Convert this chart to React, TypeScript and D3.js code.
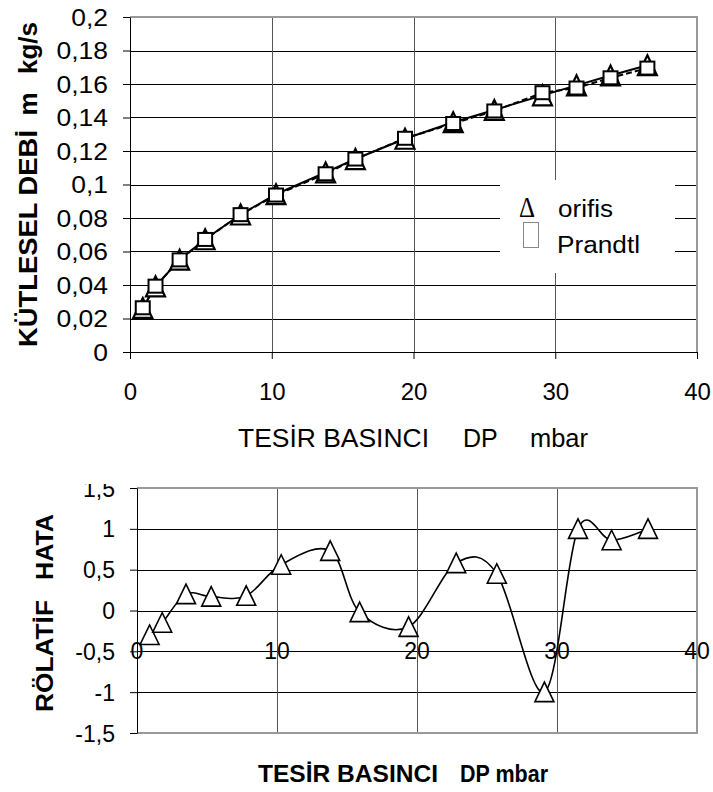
import React, { useEffect, useRef } from 'react';
import * as d3 from 'd3';

// DP (mbar) readings shared by both charts
const dp = [0.9, 1.8, 3.5, 5.3, 7.8, 10.3, 13.8, 15.9, 19.4, 22.8, 25.7, 29.1, 31.5, 33.9, 36.5];
// mass flow, kg/s
const orifis = [0.0263, 0.0392, 0.0551, 0.0673, 0.0821, 0.0942, 0.1072, 0.1152, 0.1273, 0.1372, 0.1445, 0.1532, 0.1592, 0.1651, 0.1712];
const prandtl = [0.0264, 0.0393, 0.055, 0.0672, 0.082, 0.0937, 0.1064, 0.1152, 0.1276, 0.1364, 0.1439, 0.1548, 0.1576, 0.1637, 0.1695];
// relative error, %
const hata = [-0.3, -0.15, 0.2, 0.17, 0.18, 0.56, 0.73, -0.02, -0.2, 0.58, 0.45, -1.0, 1.0, 0.86, 1.0];

const yTicksTop = [0, 0.02, 0.04, 0.06, 0.08, 0.1, 0.12, 0.14, 0.16, 0.18, 0.2];
const yTicksBot = [-1.5, -1, -0.5, 0, 0.5, 1, 1.5];
const xTicks = [0, 10, 20, 30, 40];

const FONT = "'Liberation Sans', Arial, sans-serif";
const fmt = (d: number) => String(+d.toFixed(2)).replace('.', ',');

const App = () => {
  const svgRef = useRef<SVGSVGElement>(null);

  useEffect(() => {
    const svg = d3.select(svgRef.current);
    svg.selectAll('*').remove();
    svg.attr('font-family', FONT);

    const text = (g: any, x: number, y: number, s: string, size: number, o: any = {}) => {
      const t = g.append('text')
        .attr('x', x).attr('y', y)
        .attr('font-size', size)
        .attr('font-weight', o.bold ? 'bold' : 'normal')
        .attr('text-anchor', o.anchor || 'start')
        .attr('fill', '#000')
        .text(s);
      if (o.len) t.attr('textLength', o.len).attr('lengthAdjust', 'spacingAndGlyphs');
      if (o.rotate) t.attr('transform', `rotate(-90,${x},${y})`);
      if (o.family) t.attr('font-family', o.family);
      return t;
    };

    // ---------------- top chart ----------------
    const x1 = d3.scaleLinear().domain([0, 40]).range([130, 697]);
    const y1 = d3.scaleLinear().domain([0, 0.2]).range([352, 17]);
    const top = svg.append('g');

    top.append('g').selectAll('line').data(yTicksTop.slice(1, -1)).join('line')
      .attr('x1', x1(0)).attr('x2', x1(40))
      .attr('y1', d => Math.round(y1(d)) + 0.5).attr('y2', d => Math.round(y1(d)) + 0.5)
      .attr('stroke', '#000');
    top.append('g').selectAll('line').data(xTicks.slice(1, -1)).join('line')
      .attr('x1', d => Math.round(x1(d)) + 0.5).attr('x2', d => Math.round(x1(d)) + 0.5)
      .attr('y1', y1(0.2)).attr('y2', y1(0))
      .attr('stroke', '#555');
    top.append('path')
      .attr('d', `M${x1(0)},${y1(0.2)}H${x1(40)}V${y1(0)}`)
      .attr('fill', 'none').attr('stroke', '#999').attr('stroke-width', 2);

    const ax1 = top.append('g').attr('transform', `translate(${x1(0)},0)`)
      .call(d3.axisLeft(y1).tickValues(yTicksTop).tickSize(7).tickSizeOuter(0).tickFormat(fmt as any));
    ax1.selectAll('text')
      .attr('x', 0).attr('dy', '0.35em')
      .attr('transform', 'translate(-22,0) scale(1.15,1)')
      .attr('font-size', 23).attr('font-family', FONT).attr('fill', '#000');

    const bx1 = top.append('g').attr('transform', `translate(0,${y1(0)})`)
      .call(d3.axisBottom(x1).tickValues(xTicks).tickSize(7).tickSizeOuter(0));
    bx1.selectAll('text')
      .attr('y', 48).attr('dy', 0)
      .attr('font-size', 24).attr('font-family', FONT).attr('fill', '#000');

    // legend box covers grid
    top.append('rect').attr('x', 500).attr('y', 180).attr('width', 175).attr('height', 93).attr('fill', '#fff');
    text(top, 519, 217, 'Δ', 30, { len: 16, family: "'Liberation Serif', serif" });
    text(top, 558, 217, 'orifis', 23, { len: 55 });
    top.append('rect').attr('x', 523.5).attr('y', 222.5).attr('width', 15).attr('height', 25)
      .attr('fill', '#fff').attr('stroke', '#888');
    text(top, 557, 253, 'Prandtl', 23, { len: 83 });

    const line1 = (vals: number[]) => d3.line<number>().x((d, i) => x1(dp[i])).y(d => y1(d))(vals);
    top.append('path').attr('d', line1(orifis)).attr('fill', 'none').attr('stroke', '#000').attr('stroke-width', 2);
    top.append('path').attr('d', line1(prandtl)).attr('fill', 'none').attr('stroke', '#000')
      .attr('stroke-width', 2).attr('stroke-dasharray', '6,3');

    top.append('g').selectAll('path').data(orifis).join('path')
      .attr('d', (d, i) => {
        const cx = x1(dp[i]), cy = y1(d);
        return `M${cx},${cy - 10}L${cx + 9.5},${cy + 10}L${cx - 9.5},${cy + 10}Z`;
      })
      .attr('fill', '#fff').attr('stroke', '#000').attr('stroke-width', 2.2).attr('stroke-linejoin', 'miter');
    top.append('g').selectAll('rect').data(prandtl).join('rect')
      .attr('x', (d, i) => x1(dp[i]) - 7).attr('y', d => y1(d) - 6.5)
      .attr('width', 14).attr('height', 13)
      .attr('fill', '#fff').attr('stroke', '#000').attr('stroke-width', 2);

    // top titles
    text(top, 238, 447, 'TESİR BASINCI', 25, { len: 191 });
    text(top, 463, 447, 'DP', 25);
    text(top, 530, 447, 'mbar', 25, { len: 58 });
    text(top, 37, 347, 'KÜTLESEL DEBİ', 26, { bold: true, rotate: true, len: 217 });
    text(top, 37, 104, 'm', 26, { bold: true, rotate: true, anchor: 'middle' });
    text(top, 37, 22, 'kg/s', 26, { bold: true, rotate: true, anchor: 'end' });

    // ---------------- bottom chart ----------------
    const x2 = d3.scaleLinear().domain([0, 40]).range([137, 697]);
    const y2 = d3.scaleLinear().domain([-1.5, 1.5]).range([733, 488]);
    const bot = svg.append('g');

    bot.append('g').selectAll('line').data(yTicksBot.slice(1, -1)).join('line')
      .attr('x1', x2(0)).attr('x2', x2(40))
      .attr('y1', d => Math.round(y2(d)) + 0.5).attr('y2', d => Math.round(y2(d)) + 0.5)
      .attr('stroke', '#000');
    bot.append('g').selectAll('line').data(xTicks.slice(1, -1)).join('line')
      .attr('x1', d => Math.round(x2(d)) + 0.5).attr('x2', d => Math.round(x2(d)) + 0.5)
      .attr('y1', y2(1.5)).attr('y2', y2(-1.5))
      .attr('stroke', '#555');
    bot.append('path')
      .attr('d', `M${x2(0)},${y2(1.5)}H${x2(40)}V${y2(-1.5)}H${x2(0)}`)
      .attr('fill', 'none').attr('stroke', '#999').attr('stroke-width', 2);

    // the top "1,5" label is cut off in the original
    svg.append('defs').append('clipPath').attr('id', 'botclip')
      .append('rect').attr('x', -200).attr('y', 484).attr('width', 400).attr('height', 308);
    const ax2 = bot.append('g').attr('transform', `translate(${x2(0)},0)`).attr('clip-path', 'url(#botclip)')
      .call(d3.axisLeft(y2).tickValues(yTicksBot).tickSize(7).tickSizeOuter(0).tickFormat(fmt as any));
    ax2.selectAll('text')
      .attr('x', -22).attr('dy', '0.35em')
      .attr('font-size', 23).attr('font-family', FONT).attr('fill', '#000');

    bot.append('g').selectAll('text').data(xTicks).join('text')
      .attr('x', d => x2(d)).attr('y', 659)
      .attr('text-anchor', 'middle').attr('font-size', 23).attr('fill', '#000')
      .text(d => d);

    const line2 = d3.line<number>().x((d, i) => x2(dp[i])).y(d => y2(d)).curve(d3.curveCardinal.tension(0));
    bot.append('path').attr('d', line2(hata)).attr('fill', 'none').attr('stroke', '#000').attr('stroke-width', 1.6);
    bot.append('g').selectAll('path').data(hata).join('path')
      .attr('d', (d, i) => {
        const cx = x2(dp[i]), cy = y2(d);
        return `M${cx},${cy - 10}L${cx + 9.5},${cy + 9.5}L${cx - 9.5},${cy + 9.5}Z`;
      })
      .attr('fill', '#fff').attr('stroke', '#000').attr('stroke-width', 1.6);

    text(bot, 258, 782, 'TESİR BASINCI', 23, { bold: true, len: 180 });
    text(bot, 460, 782, 'DP mbar', 23, { bold: true, len: 88 });
    text(bot, 53, 712, 'RÖLATİF', 23, { bold: true, rotate: true, len: 112 });
    text(bot, 53, 514, 'HATA', 23, { bold: true, rotate: true, anchor: 'end', len: 66 });
  }, []);

  return (
    <div>
      <svg ref={svgRef} width={713} height={792} style={{ position: 'absolute', left: 0, top: 0, background: '#fff' }} />
    </div>
  );
};

export default App;
